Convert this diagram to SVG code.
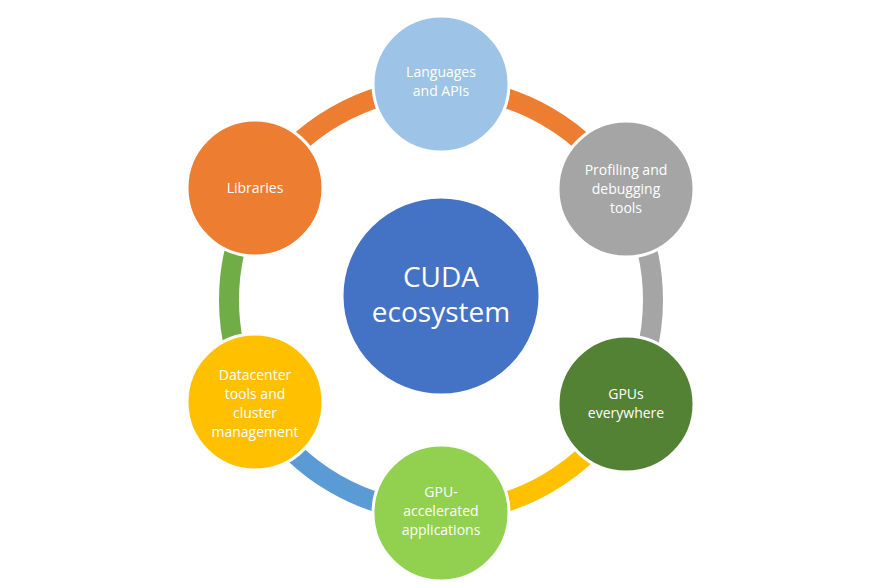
<svg xmlns="http://www.w3.org/2000/svg" width="881" height="588" viewBox="0 0 881 588">
<style>
.arc{fill:none;stroke-width:20}
.n{stroke:#fff;stroke-width:3}
text{font-family:"Open Sans","Liberation Sans",sans-serif;fill:#fff;text-anchor:middle;font-size:14px}
.c{font-size:28px}
</style>
<rect width="881" height="588" fill="#fff"/>
<g id="connectors">
<path class="arc" stroke="#ED7D31" d="M257.4 194 A212 212 0 0 1 441 88"/>
<path class="arc" stroke="#ED7D31" d="M441 88 A212 212 0 0 1 624.6 194"/>
<path class="arc" stroke="#A5A5A5" d="M624.6 194 A212 212 0 0 1 624.6 406"/>
<path class="arc" stroke="#FFC000" d="M624.6 406 A212 212 0 0 1 441 512"/>
<path class="arc" stroke="#5B9BD5" d="M441 512 A212 212 0 0 1 257.4 406"/>
<path class="arc" stroke="#70AD47" d="M257.4 406 A212 212 0 0 1 257.4 194"/>
</g>
<g id="center"><circle class="n" cx="441" cy="296" r="99" fill="#4472C4"/><text class="c" x="441" y="287">CUDA</text><text class="c" x="441" y="322">ecosystem</text></g>
<g id="languages"><circle class="n" cx="441" cy="84" r="68" fill="#9DC3E6"/><text x="441" y="77">Languages</text><text x="441" y="96">and APIs</text></g>
<g id="profiling"><circle class="n" cx="626" cy="189" r="68" fill="#A5A5A5"/><text x="626" y="175">Profiling and</text><text x="626" y="194">debugging</text><text x="626" y="213">tools</text></g>
<g id="gpus"><circle class="n" cx="626" cy="404" r="68" fill="#548235"/><text x="626" y="399">GPUs</text><text x="626" y="418">everywhere</text></g>
<g id="gpuaccel"><circle class="n" cx="441" cy="513" r="68" fill="#92D050"/><text x="441" y="497">GPU-</text><text x="441" y="516">accelerated</text><text x="441" y="535">applications</text></g>
<g id="datacenter"><circle class="n" cx="255" cy="402" r="68" fill="#FFC000"/><text x="255" y="380">Datacenter</text><text x="255" y="399">tools and</text><text x="255" y="418">cluster</text><text x="255" y="437">management</text></g>
<g id="libraries"><circle class="n" cx="255" cy="188" r="68" fill="#ED7D31"/><text x="255" y="193">Libraries</text></g>
</svg>
